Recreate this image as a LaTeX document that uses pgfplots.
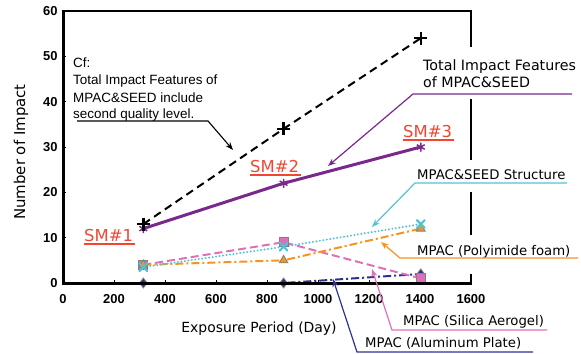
\documentclass[border=0pt]{standalone}
\usepackage{fontspec}
\setmainfont{Liberation Sans}
\newfontfamily\dv{DejaVu Sans}
\usepackage{pgfplots}
\pgfplotsset{compat=1.18}
\usetikzlibrary{arrows.meta}
\definecolor{cpurple}{RGB}{122,40,140}
\definecolor{ccyan}{RGB}{80,196,212}
\definecolor{corange}{RGB}{247,148,30}
\definecolor{cpink}{RGB}{222,112,186}
\definecolor{cnavy}{RGB}{46,49,146}
\definecolor{cred}{RGB}{240,70,50}
\definecolor{cgray}{RGB}{128,128,128}
\begin{document}
\begin{tikzpicture}
\path[use as bounding box] (0,0) rectangle (581bp,-354bp);
\begin{axis}[
  at={(63bp,-283bp)}, anchor=south west,
  scale only axis, width=408bp, height=272bp,
  xmin=0, xmax=1600, ymin=0, ymax=60,
  xtick={0,200,...,1600}, ytick={0,10,...,60},
  tick align=inside, major tick length=3bp,
  xtick pos=bottom, ytick pos=left,
  tick style={black, line width=0.8bp},
  axis line style={line width=1.5bp},
  ticklabel style={font=\fontsize{13}{13}\selectfont\bfseries},
  /pgf/number format/assume math mode=true,
  /pgf/number format/1000 sep={},
  xticklabel style={yshift=-8bp},
  yticklabel style={xshift=-2bp},
  clip=false,
]
\addplot[cnavy, line width=2bp, dash pattern=on 8bp off 3bp on 2bp off 3bp,
  mark=diamond*, mark size=5bp, mark options={solid, fill=cnavy, draw=cgray, line width=0.8bp}]
  coordinates {(315,0) (865,0) (1403,2)};
\addplot[cpink, line width=2bp, dash pattern=on 8bp off 4bp,
  mark=square*, mark size=4.5bp, mark options={solid, fill=cpink, draw=cgray, line width=1bp}]
  coordinates {(315,4) (865,9) (1403,1)};
\addplot[corange, line width=2bp, dash pattern=on 8bp off 3bp on 2bp off 3bp,
  mark=triangle*, mark size=5bp, mark options={solid, fill=corange, draw=cgray, line width=0.8bp}]
  coordinates {(315,4) (865,5) (1403,12)};
\addplot[ccyan, line width=2.2bp, line cap=round, dash pattern=on 0bp off 3.5bp,
  mark=x, mark size=5.5bp, mark options={solid, line width=2.2bp}]
  coordinates {(315,3.5) (865,8) (1403,13)};
\addplot[cpurple, line width=3bp,
  mark=asterisk, mark size=4.5bp, mark options={solid, line width=1.5bp}]
  coordinates {(315,12) (865,22) (1403,30)};
\addplot[black, line width=2bp, dash pattern=on 8bp off 5bp,
  mark=+, mark size=6.5bp, mark options={solid, line width=2.5bp}]
  coordinates {(315,13) (865,34) (1403,54)};
\end{axis}
\begin{scope}[x=1bp,y=-1bp]
  % gaps in the right spine
  \fill[white] (466,47) rectangle (477,99);
  \fill[white] (466,160) rectangle (477,192);
  \fill[white] (466,235) rectangle (477,274);
  % heavier left and bottom spines
  \draw[line width=3bp] (63,11)--(63,283)--(472,283);
  % axis labels
  \node[rotate=90, font=\dv\fontsize{15}{15}\selectfont] at (21,152) {Number of Impact};
  \node[font=\dv\fontsize{14}{14}\selectfont] at (259,329) {Exposure Period (Day)};
  % Cf note
  \begin{scope}[every node/.style={anchor=base west, inner sep=0, font=\fontsize{13.5}{13.5}\selectfont}]
    \node at (73,67) {Cf:};
    \node at (73,84) {Total Impact Features of};
    \node at (73,102) {MPAC\&SEED include};
    \node at (73,118) {second quality level.};
  \end{scope}
  \draw[line width=1.1bp, -{Stealth[length=8bp,width=6bp]}] (77,121)--(208,121)--(233,150);
  % right annotations
  \begin{scope}[every node/.style={anchor=base west, inner sep=0, font=\dv\fontsize{13.3}{13.3}\selectfont}]
    \node[font=\dv\fontsize{14.3}{14.3}\selectfont] at (423,70) {Total Impact Features};
    \node[font=\dv\fontsize{14.3}{14.3}\selectfont] at (423,87) {of MPAC\&SEED};
    \node at (417,179) {MPAC\&SEED Structure};
    \node at (417,255) {MPAC (Polyimide foam)};
    \node at (403,325) {MPAC (Silica Aerogel)};
    \node at (365,347) {MPAC (Aluminum Plate)};
  \end{scope}
  \draw[cpurple, line width=1.2bp, -{Stealth[length=8bp,width=6bp]}] (572,94)--(413,94)--(328,166);
  \draw[ccyan, line width=1.2bp, -{Stealth[length=8bp,width=6bp]}] (567,183)--(415,183)--(372,227);
  \draw[corange, line width=1.2bp, -{Stealth[length=8bp,width=6bp]}] (578,258)--(400,258)--(381,242);
  \draw[cpink, line width=1.2bp, -{Stealth[length=8bp,width=6bp]}] (547,330)--(392,330)--(372,269);
  \draw[cnavy, line width=1.2bp, -{Stealth[length=8bp,width=6bp]}] (533,352)--(357,352)--(333,279);
  % SM labels
  \begin{scope}[every node/.style={anchor=base west, inner sep=0, text=cred, font=\dv\fontsize{16.5}{16.5}\selectfont}]
    \node (s1) at (84,241) {SM\#1};
    \node (s2) at (250,172) {SM\#2};
    \node (s3) at (403,137) {SM\#3};
  \end{scope}
  \draw[cred, line width=1.2bp] (s1.base west)++(0,3) -- ++(51,0);
  \draw[cred, line width=1.2bp] (s2.base west)++(0,3) -- ++(51,0);
  \draw[cred, line width=1.2bp] (s3.base west)++(0,3) -- ++(51,0);
\end{scope}
\end{tikzpicture}
\end{document}
